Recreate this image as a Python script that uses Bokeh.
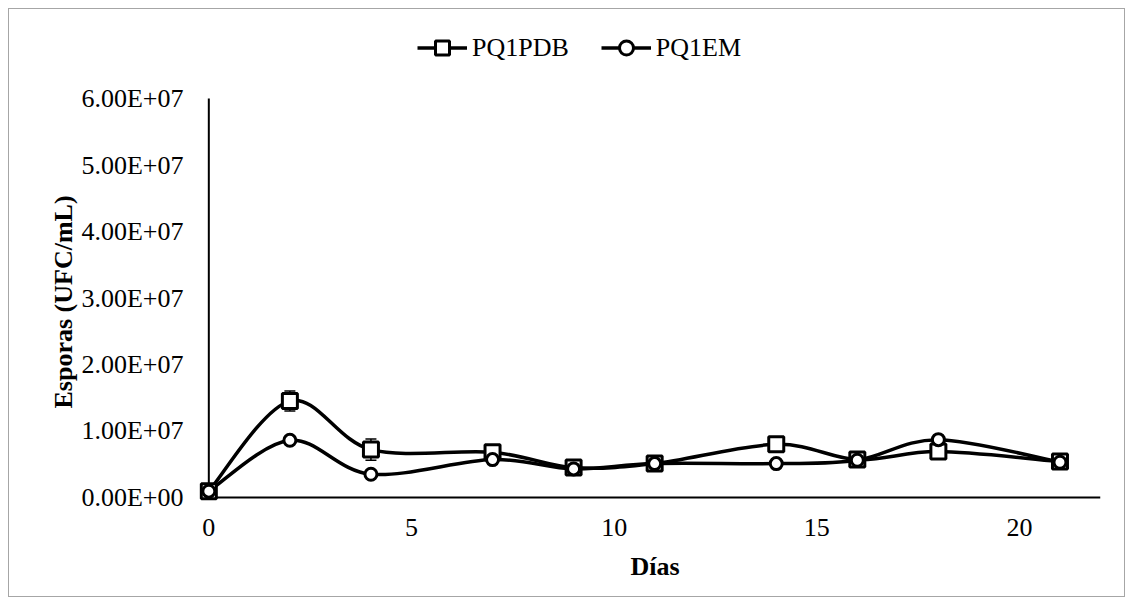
from bokeh.plotting import figure
from bokeh.models import (ColumnDataSource, Range1d, FixedTicker, Legend, LegendItem,
                          Whisker, TeeHead, Title)
from bokeh.embed import file_html
from bokeh.resources import INLINE

# ---------------- data ----------------
dias = [0, 2, 4, 7, 9, 11, 14, 16, 18, 21]
pq1pdb = [0.95e6, 1.45e7, 7.2e6, 6.8e6, 4.5e6, 5.1e6, 8.0e6, 5.7e6, 6.9e6, 5.4e6]
pq1pdb_err = [1e5, 1.5e6, 1.6e6, 4e5, 4e5, 3e5, 5e5, 4e5, 6e5, 3e5]
pq1em = [0.95e6, 8.6e6, 3.5e6, 5.7e6, 4.3e6, 5.1e6, 5.1e6, 5.6e6, 8.7e6, 5.3e6]
pq1em_err = [1e5, 3e5, 3e5, 3e5, 2e5, 2e5, 2e5, 2e5, 3e5, 2e5]
series_names = ["PQ1PDB", "PQ1EM"]

x_max = 22
x_ticks = [0, 5, 10, 15, 20]
x_tick_labels = ["0", "5", "10", "15", "20"]
y_ticks = [0, 1e7, 2e7, 3e7, 4e7, 5e7, 6e7]
y_tick_labels = ["0.00E+00", "1.00E+07", "2.00E+07", "3.00E+07", "4.00E+07", "5.00E+07", "6.00E+07"]
x_title = "Días"
y_title = "Esporas (UFC/mL)"

FONT = "Liberation Serif"


def bezier_source(xs, ys):
    """Smoothed (Catmull-Rom style) segments through the data points."""
    n = len(xs)
    d = dict(x0=[], y0=[], x1=[], y1=[], cx0=[], cy0=[], cx1=[], cy1=[])
    for i in range(n - 1):
        a = i - 1 if i > 0 else i
        b = i + 2 if i + 2 < n else i + 1
        d["x0"].append(xs[i]); d["y0"].append(ys[i])
        d["x1"].append(xs[i + 1]); d["y1"].append(ys[i + 1])
        d["cx0"].append(xs[i] + (xs[i + 1] - xs[a]) / 6)
        d["cy0"].append(ys[i] + (ys[i + 1] - ys[a]) / 6)
        d["cx1"].append(xs[i + 1] - (xs[b] - xs[i]) / 6)
        d["cy1"].append(ys[i + 1] - (ys[b] - ys[i]) / 6)
    return ColumnDataSource(d)


# frame: 184..1100 px horizontally, 20..507 px vertically (page coords)
p = figure(width=1117, height=589, output_backend="svg", toolbar_location=None,
           x_range=Range1d(-0.6, x_max), y_range=Range1d(-1.504e6, 7.173e7),
           min_border_left=175, min_border_right=26, min_border_top=11, min_border_bottom=91,
           styles={"border": "1px solid #a6a6a6", "margin": "8px 0 0 8px"})
p.outline_line_color = None
p.xgrid.visible = False
p.ygrid.visible = False

for ax in (p.xaxis[0], p.yaxis[0]):
    ax.axis_line_color = None
    ax.major_tick_line_color = None
    ax.minor_tick_line_color = None
    ax.major_tick_out = 0
    ax.major_tick_in = 0
    ax.major_label_text_font = FONT
    ax.major_label_text_font_size = "26px"
    ax.major_label_text_color = "black"

p.xaxis[0].ticker = FixedTicker(ticks=x_ticks)
p.xaxis[0].major_label_overrides = {t: l for t, l in zip(x_ticks, x_tick_labels)}
p.xaxis[0].major_label_standoff = 11

p.yaxis[0].ticker = FixedTicker(ticks=y_ticks)
p.yaxis[0].major_label_overrides = {t: l for t, l in zip(y_ticks, y_tick_labels)}
p.yaxis[0].major_label_standoff = 1

# axis titles
p.add_layout(Title(text=y_title, align="left", offset=99, standoff=2,
                   text_font=FONT, text_font_size="26px", text_font_style="bold",
                   text_color="black"), "left")
p.add_layout(Title(text=x_title, align="left", offset=446, standoff=22,
                   text_font=FONT, text_font_size="26px", text_font_style="bold",
                   text_color="black"), "below")

# axis lines
p.segment(x0=[x_ticks[0]], y0=[y_ticks[0]], x1=[x_ticks[0]], y1=[y_ticks[-1]],
          line_color="black", line_width=2)
p.segment(x0=[x_ticks[0]], y0=[y_ticks[0]], x1=[x_max], y1=[y_ticks[0]],
          line_color="black", line_width=2)

# error bars (under markers)
src_a = ColumnDataSource(dict(x=dias, y=pq1pdb,
                              up=[v + e for v, e in zip(pq1pdb, pq1pdb_err)],
                              lo=[v - e for v, e in zip(pq1pdb, pq1pdb_err)]))
src_b = ColumnDataSource(dict(x=dias, y=pq1em,
                              up=[v + e for v, e in zip(pq1em, pq1em_err)],
                              lo=[v - e for v, e in zip(pq1em, pq1em_err)]))
for src in (src_a, src_b):
    w = Whisker(source=src, base="x", upper="up", lower="lo", dimension="height",
                line_color="black", line_width=1.5, level="underlay",
                upper_head=TeeHead(size=11, line_color="black", line_width=1.5),
                lower_head=TeeHead(size=11, line_color="black", line_width=1.5))
    p.add_layout(w)

# smoothed lines
p.bezier(x0="x0", y0="y0", x1="x1", y1="y1", cx0="cx0", cy0="cy0", cx1="cx1", cy1="cy1",
         source=bezier_source(dias, pq1pdb), line_color="black", line_width=3.5)
p.bezier(x0="x0", y0="y0", x1="x1", y1="y1", cx0="cx0", cy0="cy0", cx1="cx1", cy1="cy1",
         source=bezier_source(dias, pq1em), line_color="black", line_width=3.5)
# legend line proxies (horizontal lines in legend)
lla = p.line(x=[dias[0]], y=[pq1pdb[0]], line_color="black", line_width=3.5)
llb = p.line(x=[dias[0]], y=[pq1em[0]], line_color="black", line_width=3.5)

ma = p.scatter("x", "y", source=src_a, marker="square", size=15, fill_color="white",
               line_color="black", line_width=3)
mb = p.scatter("x", "y", source=src_b, marker="circle", size=12, fill_color="white",
               line_color="black", line_width=3)

legend = Legend(items=[LegendItem(label=series_names[0], renderers=[lla, ma]),
                       LegendItem(label=series_names[1], renderers=[llb, mb])],
                orientation="horizontal", location=(233, 442),
                label_text_font=FONT, label_text_font_size="26px", label_text_color="black",
                glyph_width=50, glyph_height=35, label_standoff=5, spacing=32,
                padding=0, margin=0, border_line_color=None, background_fill_alpha=0)
p.add_layout(legend)

open("out.html", "w").write(file_html(p, INLINE))
